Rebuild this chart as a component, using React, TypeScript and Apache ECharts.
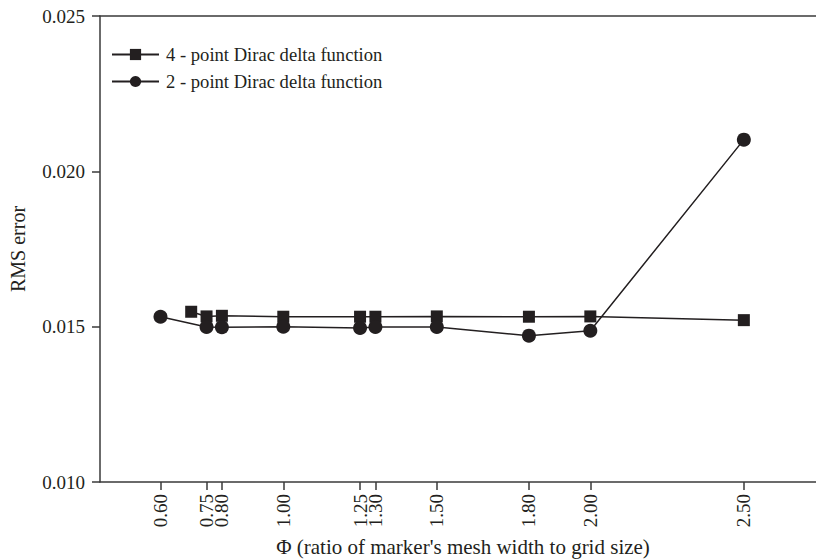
import React, { useEffect, useRef } from "react";
import * as echarts from "echarts";

const phiTicks = [0.6, 0.75, 0.8, 1.0, 1.25, 1.3, 1.5, 1.8, 2.0, 2.5];
const fourPointX = [0.7, 0.75, 0.8, 1.0, 1.25, 1.3, 1.5, 1.8, 2.0, 2.5];
const fourPointY = [0.01548, 0.01533, 0.01535, 0.01532, 0.01532, 0.01532, 0.01533, 0.01532, 0.01533, 0.01521];
const twoPointX = [0.6, 0.75, 0.8, 1.0, 1.25, 1.3, 1.5, 1.8, 2.0, 2.5];
const twoPointY = [0.01532, 0.01499, 0.01498, 0.01500, 0.01496, 0.01499, 0.01499, 0.01471, 0.01487, 0.02102];
const seriesNames = ["4 - point Dirac delta function", "2 - point Dirac delta function"];
const xTitle = "Φ (ratio of marker's mesh width to grid size)";
const yTitle = "RMS error";

const FONT = "'Liberation Serif', 'DejaVu Serif', serif";
const INK = "#231f20";
const AXIS = "#3a3a3a";

export default function App() {
  const ref = useRef<HTMLDivElement>(null);
  useEffect(() => {
    if (!ref.current) return;
    const chart = echarts.init(ref.current, undefined, { renderer: "svg" });
    const pair = (xs: number[], ys: number[]) => xs.map((x, i) => [x, ys[i]]);
    chart.setOption({
      animation: false,
      backgroundColor: "#ffffff",
      grid: { left: 96, right: 0, top: 16, bottom: 78 },
      legend: {
        orient: "vertical",
        left: 106,
        top: 40,
        itemWidth: 47,
        itemHeight: 14,
        itemGap: 8,
        data: seriesNames,
        textStyle: { fontFamily: FONT, fontSize: 18.6, color: INK, padding: [0, 0, 0, 2] },
      },
      xAxis: [
        {
          type: "value",
          min: 0.403,
          max: 2.735,
          splitLine: { show: false },
          axisLine: { show: true, onZero: false, lineStyle: { color: AXIS, width: 1.5 } },
          axisTick: { show: true, length: 8, customValues: phiTicks, lineStyle: { color: AXIS, width: 1.5 } },
          axisLabel: {
            customValues: phiTicks,
            rotate: 90,
            margin: 12,
            fontFamily: FONT,
            fontSize: 19,
            color: INK,
            formatter: (v: number) => v.toFixed(2),
          },
        },
        {
          type: "value",
          position: "top",
          min: 0.403,
          max: 2.735,
          splitLine: { show: false },
          axisLine: { show: true, onZero: false, lineStyle: { color: AXIS, width: 1.5 } },
          axisTick: { show: false },
          axisLabel: { show: false },
        },
      ],
      yAxis: {
        type: "value",
        min: 0.01,
        max: 0.025,
        interval: 0.005,
        name: yTitle,
        nameLocation: "middle",
        nameGap: 72,
        nameTextStyle: { fontFamily: FONT, fontSize: 20, color: INK },
        splitLine: { show: false },
        axisLine: { show: true, lineStyle: { color: AXIS, width: 1.5 } },
        axisTick: { show: true, length: 8, lineStyle: { color: AXIS, width: 1.5 } },
        axisLabel: {
          margin: 15,
          fontFamily: FONT,
          fontSize: 19,
          color: INK,
          formatter: (v: number) => v.toFixed(3),
        },
      },
      graphic: [
        {
          type: "text",
          x: 463,
          y: 547,
          style: {
            text: xTitle,
            fontFamily: FONT,
            fontSize: 21,
            fill: INK,
            textAlign: "center",
            textVerticalAlign: "middle",
          },
        },
      ],
      series: [
        {
          name: seriesNames[0],
          type: "line",
          data: pair(fourPointX, fourPointY),
          symbol: "rect",
          symbolSize: 12,
          itemStyle: { color: INK },
          lineStyle: { color: INK, width: 1.5 },
        },
        {
          name: seriesNames[1],
          type: "line",
          data: pair(twoPointX, twoPointY),
          symbol: "circle",
          symbolSize: 14,
          itemStyle: { color: INK },
          lineStyle: { color: INK, width: 1.5 },
        },
      ],
    });
    return () => chart.dispose();
  }, []);
  return (
    <div
      ref={ref}
      style={{ position: "fixed", left: 0, top: 0, width: 816, height: 560, background: "#fff" }}
    />
  );
}
